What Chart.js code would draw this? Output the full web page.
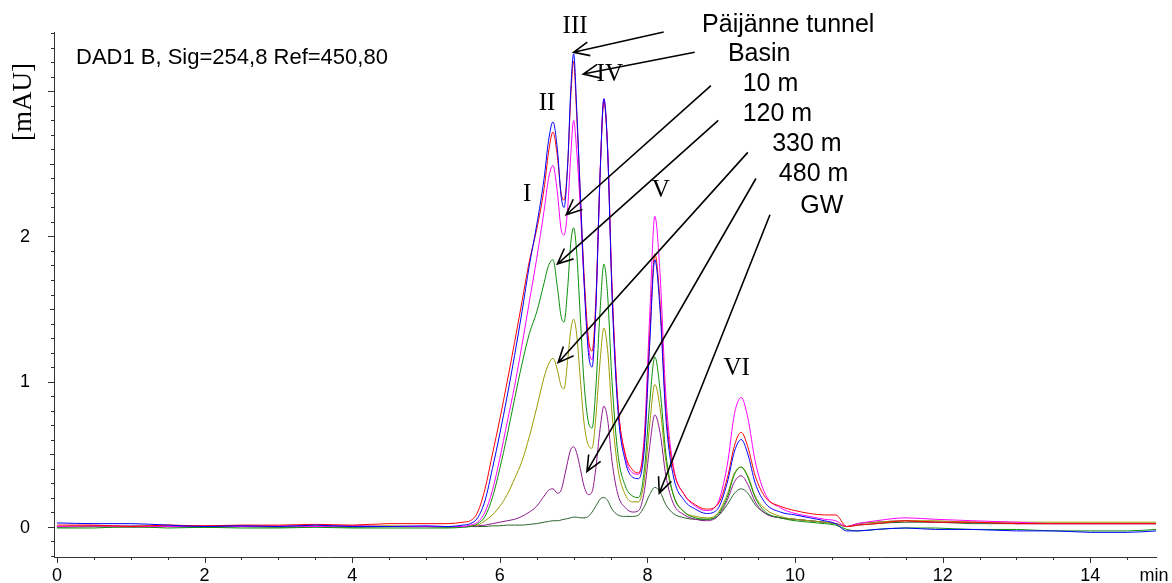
<!DOCTYPE html>
<html>
<head>
<meta charset="utf-8">
<script src="https://cdn.jsdelivr.net/npm/chart.js@4.4.1/dist/chart.umd.min.js"></script>
<style>
  html, body { margin: 0; padding: 0; background: #fff; }
  #wrap { width: 1172px; height: 583px; }
</style>
</head>
<body>
<div id="wrap"><canvas id="chart" width="1172" height="583"></canvas></div>
<script>
// -----------------------------
// Data (retention time in min, absorbance in mAU)
// -----------------------------
const times = [0, 0.5, 1, 1.5, 2, 2.5, 3, 3.5, 4, 4.5,
    5, 5.3, 5.5, 5.6, 5.7, 5.8, 5.9, 6.0, 6.1, 6.2,
    6.3, 6.4, 6.5, 6.6, 6.66, 6.72, 6.78, 6.83, 6.87, 6.92,
    6.96, 7.0, 7.04, 7.09, 7.14, 7.2, 7.25, 7.3, 7.36, 7.41,
    7.46, 7.52, 7.6, 7.7, 7.8, 7.88, 7.96, 8.03, 8.1, 8.17,
    8.25, 8.35, 8.5, 8.65, 8.8, 8.95, 9.08, 9.18, 9.27, 9.36,
    9.46, 9.6, 9.8, 10.0, 10.2, 10.4, 10.55, 10.7, 10.85, 11.1,
    11.5, 11.9, 12.4, 13.0, 13.5, 14.0, 14.5, 14.9];

const tunnel = [0.025, 0.02, 0.02, 0.01, 0.0, 0.005, 0.0, 0.01, 0.0, 0.0,
    0.005, 0.0, 0.01, 0.02, 0.06, 0.18, 0.4, 0.64, 0.9, 1.18,
    1.48, 1.8, 2.08, 2.4, 2.66, 2.79, 2.6, 2.28, 2.2, 2.5,
    3.0, 3.26, 2.9, 2.3, 1.7, 1.2, 1.1, 1.5, 2.45, 2.95,
    2.6, 1.6, 0.8, 0.45, 0.34, 0.33, 0.55, 1.25, 1.84, 1.5,
    0.75, 0.35, 0.18, 0.12, 0.09, 0.12, 0.3, 0.52, 0.6, 0.5,
    0.3, 0.16, 0.1, 0.08, 0.06, 0.04, 0.02, -0.03, -0.03, -0.02,
    -0.01, -0.02, -0.02, -0.03, -0.03, -0.04, -0.04, -0.03];

const basin = [0.01, 0.01, 0.0, 0.01, 0.005, 0.01, 0.01, 0.015, 0.01, 0.02,
    0.02, 0.02, 0.03, 0.04, 0.1, 0.26, 0.5, 0.74, 1.0, 1.27,
    1.55, 1.83, 2.05, 2.33, 2.58, 2.72, 2.55, 2.3, 2.25, 2.5,
    2.95, 3.21, 2.85, 2.3, 1.75, 1.3, 1.21, 1.55, 2.45, 2.93,
    2.6, 1.65, 0.85, 0.5, 0.39, 0.37, 0.6, 1.3, 1.88, 1.55,
    0.8, 0.4, 0.22, 0.15, 0.12, 0.15, 0.33, 0.56, 0.65, 0.55,
    0.35, 0.2, 0.14, 0.11, 0.09, 0.08, 0.08, 0.0, 0.01, 0.02,
    0.04, 0.03, 0.03, 0.02, 0.02, 0.02, 0.02, 0.02];

const depth10 = [0.0, 0.005, 0.0, 0.0, 0.005, 0.0, 0.005, 0.0, 0.005, 0.0,
    0.0, 0.0, 0.0, 0.01, 0.03, 0.1, 0.25, 0.47, 0.72, 0.97,
    1.25, 1.55, 1.85, 2.18, 2.4, 2.49, 2.3, 2.05, 2.01, 2.2,
    2.55, 2.8, 2.6, 2.2, 1.7, 1.25, 1.15, 1.5, 2.45, 2.95,
    2.62, 1.65, 0.85, 0.48, 0.37, 0.36, 0.65, 1.45, 2.14, 1.75,
    0.9, 0.42, 0.22, 0.14, 0.11, 0.16, 0.42, 0.78, 0.89, 0.75,
    0.45, 0.22, 0.13, 0.09, 0.07, 0.05, 0.04, 0.0, 0.02, 0.04,
    0.06, 0.05, 0.04, 0.03, 0.02, 0.02, 0.02, 0.02];

const depth120 = [-0.01, -0.01, 0.0, -0.01, -0.005, -0.01, -0.01, -0.005, -0.01, -0.01,
    -0.01, -0.01, -0.005, 0.0, 0.02, 0.07, 0.2, 0.4, 0.63, 0.88,
    1.12, 1.33, 1.48, 1.68, 1.8, 1.84, 1.65, 1.45, 1.41, 1.65,
    1.95, 2.06, 1.9, 1.45, 1.0, 0.72, 0.68, 0.95, 1.5, 1.81,
    1.6, 1.0, 0.5, 0.28, 0.21, 0.2, 0.4, 0.85, 1.17, 0.95,
    0.5, 0.22, 0.1, 0.06, 0.05, 0.08, 0.2, 0.36, 0.41, 0.34,
    0.2, 0.1, 0.06, 0.04, 0.03, 0.02, 0.01, -0.02, -0.03, -0.02,
    -0.01, -0.01, -0.02, -0.02, -0.03, -0.03, -0.03, -0.02];

const depth330 = [0.0, 0.005, 0.0, 0.01, 0.0, 0.005, 0.0, 0.005, 0.0, 0.005,
    0.0, 0.0, 0.0, 0.005, 0.01, 0.04, 0.08, 0.14, 0.22, 0.33,
    0.45, 0.62, 0.82, 1.03, 1.12, 1.16, 1.08, 0.97, 0.95, 1.15,
    1.35, 1.43, 1.33, 1.02, 0.72, 0.56, 0.54, 0.75, 1.15, 1.37,
    1.22, 0.78, 0.4, 0.22, 0.17, 0.17, 0.33, 0.7, 0.98, 0.82,
    0.45, 0.22, 0.1, 0.07, 0.06, 0.09, 0.22, 0.37, 0.41, 0.35,
    0.21, 0.12, 0.07, 0.05, 0.04, 0.03, 0.02, 0.0, 0.02, 0.03,
    0.04, 0.04, 0.03, 0.03, 0.03, 0.03, 0.03, 0.03];

const depth480 = [0.0, 0.0, 0.005, 0.0, 0.0, 0.005, 0.0, 0.0, 0.005, 0.0,
    0.0, 0.0, 0.0, 0.0, 0.005, 0.01, 0.02, 0.03, 0.04, 0.05,
    0.07, 0.1, 0.14, 0.21, 0.25, 0.26, 0.23, 0.25, 0.33, 0.45,
    0.53, 0.55, 0.51, 0.4, 0.28, 0.22, 0.24, 0.4, 0.68, 0.83,
    0.74, 0.45, 0.22, 0.13, 0.1, 0.11, 0.25, 0.55, 0.77, 0.65,
    0.35, 0.16, 0.08, 0.05, 0.04, 0.07, 0.18, 0.31, 0.35, 0.29,
    0.17, 0.09, 0.06, 0.05, 0.04, 0.03, 0.02, 0.0, 0.02, 0.03,
    0.04, 0.03, 0.03, 0.02, 0.02, 0.02, 0.02, 0.02];

const groundwater = [-0.005, 0.0, -0.005, 0.0, -0.005, 0.0, -0.005, 0.0, -0.005, 0.0,
    0.0, -0.005, 0.0, 0.0, 0.0, 0.0, 0.005, 0.005, 0.01, 0.01,
    0.01, 0.015, 0.02, 0.03, 0.035, 0.04, 0.04, 0.045, 0.05, 0.055,
    0.06, 0.065, 0.065, 0.06, 0.06, 0.07, 0.1, 0.14, 0.19, 0.2,
    0.18, 0.12, 0.08, 0.07, 0.07, 0.08, 0.14, 0.22, 0.27, 0.24,
    0.15, 0.09, 0.06, 0.05, 0.05, 0.07, 0.15, 0.23, 0.26, 0.23,
    0.15, 0.09, 0.06, 0.05, 0.04, 0.03, 0.02, 0.0, 0.01, 0.02,
    0.03, 0.03, 0.02, 0.02, 0.02, 0.02, 0.02, 0.02];

const xTickLabels = [0, 2, 4, 6, 8, 10, 12, 14];
const yTickLabels = [0, 1, 2];

// sample names and the point (time, mAU) where each name / arrow sits
const sampleNames = ['Päijänne tunnel', 'Basin', '10 m', '120 m', '330 m', '480 m', 'GW'];
const nameAnchors = [[8.74, 3.46], [9.09, 3.255], [9.29, 3.048], [9.29, 2.841], [9.69, 2.634], [9.78, 2.428], [10.07, 2.207]];
const arrowFrom = [[8.22, 3.41], [8.64, 3.27], [8.86, 3.04], [8.96, 2.80], [9.36, 2.58], [9.47, 2.40], [9.66, 2.15]];
const arrowTo = [[7.00, 3.27], [7.13, 3.12], [6.90, 2.15], [6.78, 1.81], [6.79, 1.13], [7.18, 0.38], [8.16, 0.23]];

const peakNames = ['I', 'II', 'III', 'IV', 'V', 'VI'];
const peakAnchors = [[6.37, 2.29], [6.64, 2.92], [7.02, 3.45], [7.49, 3.12], [8.18, 2.32], [9.21, 1.09]];

// -----------------------------
// Series styling
// -----------------------------
const series = [
    { label: 'Päijänne tunnel', values: tunnel, color: '#0000ff' },
    { label: 'Basin', values: basin, color: '#ff0000' },
    { label: '10 m', values: depth10, color: '#ff00ff' },
    { label: '120 m', values: depth120, color: '#0a8f0a' },
    { label: '330 m', values: depth330, color: '#9a9a00' },
    { label: '480 m', values: depth480, color: '#8b1a8b' },
    { label: 'GW', values: groundwater, color: '#2c632c' }
];

const SANS = '"Liberation Sans", Arial, sans-serif';
const SERIF = '"Liberation Serif", "Times New Roman", serif';

// -----------------------------
// Axis ticks, labels, arrows
// -----------------------------
function drawArrow(ctx, x1, y1, x2, y2) {
    const angle = Math.atan2(y2 - y1, x2 - x1);
    const head = 17, spread = 0.42;
    ctx.beginPath();
    ctx.moveTo(x1, y1);
    ctx.lineTo(x2, y2);
    ctx.moveTo(x2 - head * Math.cos(angle - spread), y2 - head * Math.sin(angle - spread));
    ctx.lineTo(x2, y2);
    ctx.lineTo(x2 - head * Math.cos(angle + spread), y2 - head * Math.sin(angle + spread));
    ctx.stroke();
}

const annotate = {
    id: 'annotate',
    afterDraw(chart) {
        const { ctx, chartArea } = chart;
        const x = chart.scales.x, y = chart.scales.y;
        ctx.save();
        ctx.strokeStyle = '#333';
        ctx.lineWidth = 1;

        // x ticks every 0.5 min
        for (let i = 0; i <= 29; i++) {
            const px = Math.round(x.getPixelForValue(i * 0.5)) + 0.5;
            const len = (i % 4 === 0) ? 6 : 3;
            ctx.beginPath();
            ctx.moveTo(px, chartArea.bottom);
            ctx.lineTo(px, chartArea.bottom + len);
            ctx.stroke();
        }
        // y ticks every 0.1 mAU
        for (let i = -2; i <= 34; i++) {
            const py = Math.round(y.getPixelForValue(i / 10)) + 0.5;
            const len = (i % 10 === 0) ? 6 : (i % 5 === 0 ? 4 : 3);
            ctx.beginPath();
            ctx.moveTo(chartArea.left - len, py);
            ctx.lineTo(chartArea.left, py);
            ctx.stroke();
        }

        ctx.fillStyle = '#000';
        ctx.font = '18px ' + SANS;
        ctx.textAlign = 'center';
        ctx.textBaseline = 'middle';
        xTickLabels.forEach(v => ctx.fillText(String(v), x.getPixelForValue(v), 576));
        ctx.fillText('min', 1154, 576);
        yTickLabels.forEach(v => ctx.fillText(String(v), 25, y.getPixelForValue(v) + 1));

        // y axis title
        ctx.save();
        ctx.translate(24, 102);
        ctx.rotate(-Math.PI / 2);
        ctx.font = '27px ' + SERIF;
        ctx.fillText('[mAU]', 0, 0);
        ctx.restore();

        // detector caption
        ctx.textAlign = 'left';
        ctx.font = '22px ' + SANS;
        ctx.fillText('DAD1 B, Sig=254,8 Ref=450,80', 76, 58);

        // sample names and arrows
        ctx.font = '25px ' + SANS;
        sampleNames.forEach((name, i) => {
            ctx.fillText(name, x.getPixelForValue(nameAnchors[i][0]), y.getPixelForValue(nameAnchors[i][1]));
        });
        ctx.strokeStyle = '#000';
        ctx.lineWidth = 1.6;
        arrowFrom.forEach((from, i) => {
            drawArrow(ctx,
                x.getPixelForValue(from[0]), y.getPixelForValue(from[1]),
                x.getPixelForValue(arrowTo[i][0]), y.getPixelForValue(arrowTo[i][1]));
        });

        // peak numbers
        ctx.textAlign = 'center';
        ctx.font = '25px ' + SERIF;
        peakNames.forEach((name, i) => {
            ctx.fillText(name, x.getPixelForValue(peakAnchors[i][0]), y.getPixelForValue(peakAnchors[i][1]));
        });
        ctx.restore();
    }
};

// -----------------------------
// Chart
// -----------------------------
new Chart(document.getElementById('chart'), {
    type: 'line',
    data: {
        datasets: series.map(s => ({
            label: s.label,
            data: times.map((t, i) => ({ x: t, y: s.values[i] })),
            borderColor: s.color,
            borderWidth: 1,
            pointRadius: 0,
            fill: false,
            cubicInterpolationMode: 'monotone'
        }))
    },
    options: {
        responsive: false,
        animation: false,
        devicePixelRatio: 1,
        layout: { padding: { top: 32, right: 16, left: 0, bottom: 0 } },
        plugins: { legend: { display: false }, tooltip: { enabled: false } },
        scales: {
            x: {
                type: 'linear', min: -0.04, max: 14.89,
                grid: { display: false },
                border: { color: '#333', width: 1 },
                ticks: { display: false },
                afterFit(scale) { scale.height = 26; }
            },
            y: {
                type: 'linear', min: -0.21, max: 3.41,
                grid: { display: false },
                border: { color: '#333', width: 1 },
                ticks: { display: false },
                afterFit(scale) { scale.width = 54; }
            }
        }
    },
    plugins: [annotate]
});
</script>
</body>
</html>
